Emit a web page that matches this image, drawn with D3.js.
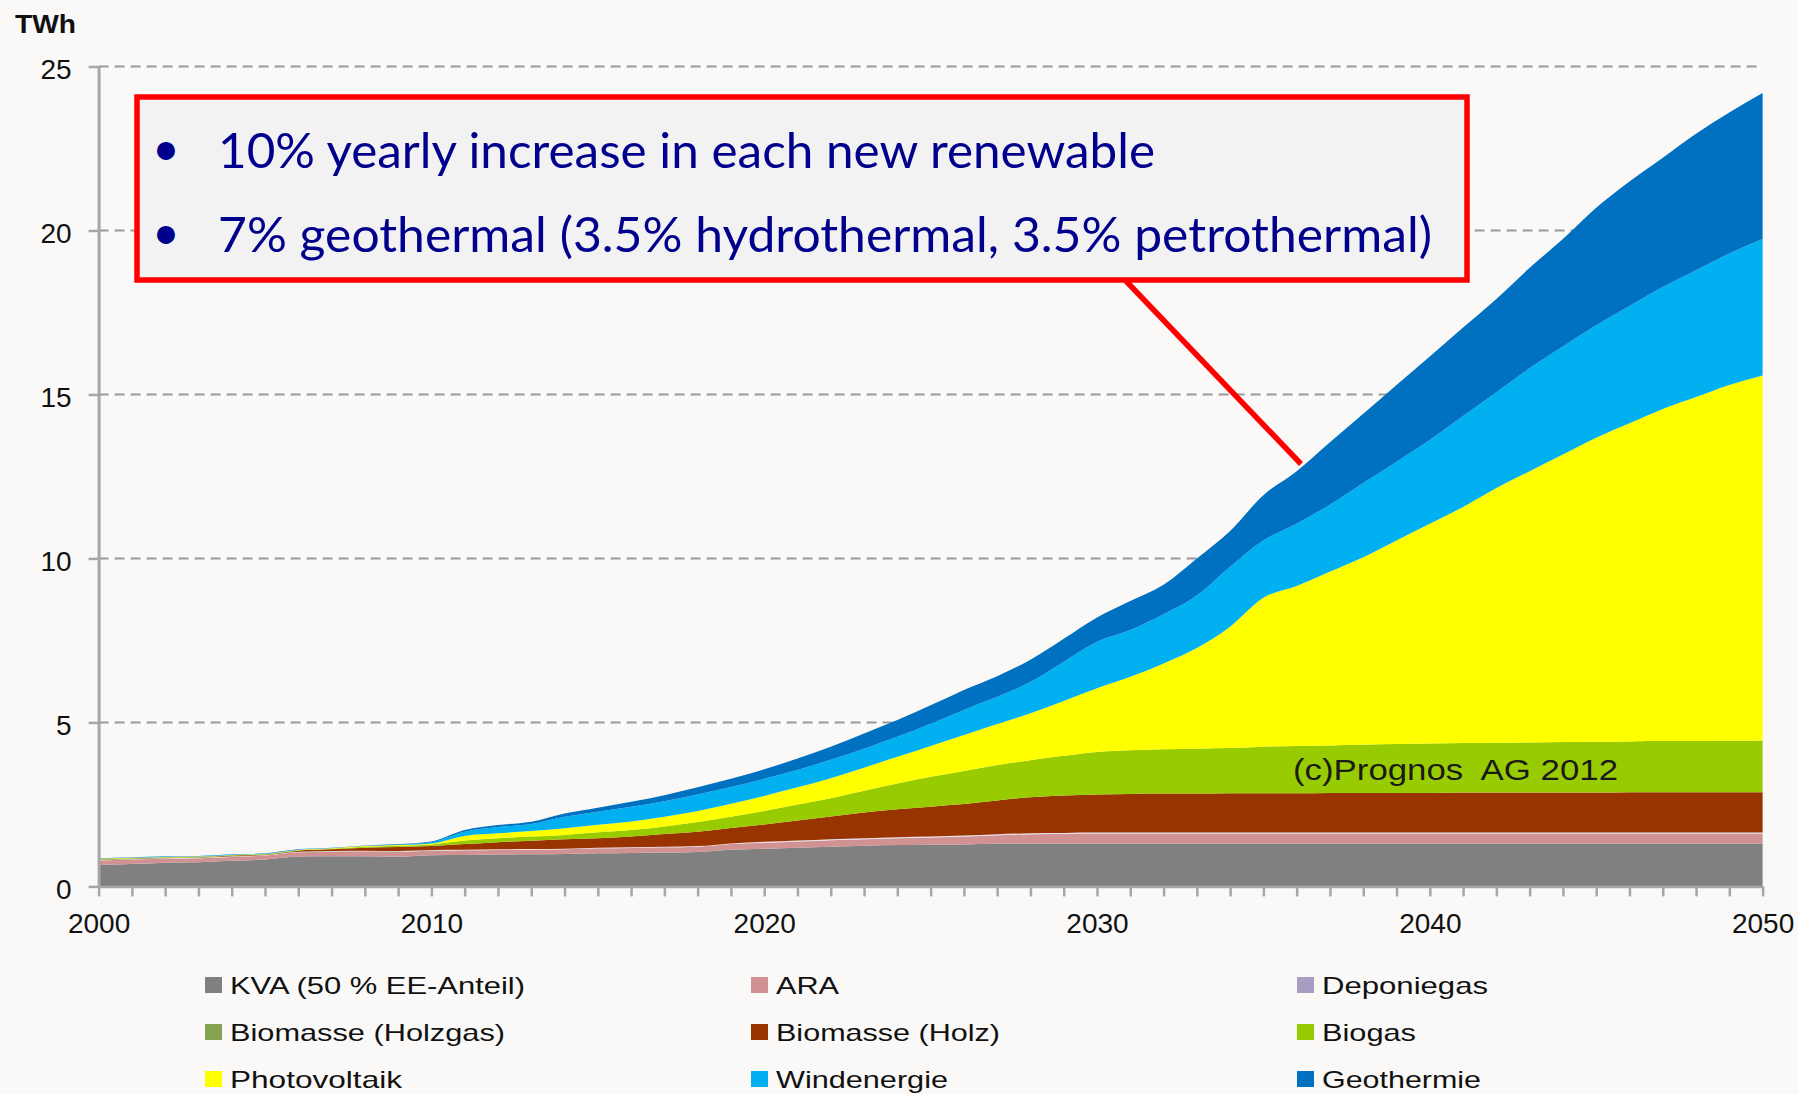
<!DOCTYPE html>
<html><head><meta charset="utf-8">
<script src="https://cdn.jsdelivr.net/npm/d3@7"></script>
<style>html,body{margin:0;padding:0;background:#faf9f7;} svg{display:block;}</style>
</head><body>
<svg id="chart" width="1798" height="1094"></svg>
<script>
// ---------- data ----------
const years = [2000,2001,2002,2003,2004,2005,2006,2007,2008,2009,2010,
  2011,2012,2013,2014,2015,2016,2017,2018,2019,2020,
  2021,2022,2023,2024,2025,2026,2027,2028,2029,2030,
  2031,2032,2033,2034,2035,2036,2037,2038,2039,2040,
  2041,2042,2043,2044,2045,2046,2047,2048,2049,2050];

const kva = [0.65,0.68,0.72,0.74,0.78,0.82,0.91,0.92,0.92,0.91,0.95,
  0.96,0.97,0.98,0.99,1.01,1.02,1.03,1.05,1.12,1.15,
  1.18,1.21,1.24,1.26,1.27,1.28,1.30,1.31,1.31,1.31,
  1.31,1.31,1.31,1.31,1.31,1.31,1.31,1.31,1.31,1.31,
  1.31,1.31,1.31,1.31,1.31,1.31,1.31,1.31,1.31,1.31];
const ara = [0.14,0.14,0.13,0.12,0.12,0.12,0.13,0.14,0.15,0.15,0.14,
  0.14,0.14,0.14,0.14,0.15,0.15,0.16,0.16,0.17,0.18,
  0.19,0.20,0.20,0.21,0.22,0.24,0.26,0.28,0.29,0.30,
  0.30,0.30,0.30,0.30,0.30,0.30,0.30,0.30,0.30,0.30,
  0.30,0.30,0.30,0.30,0.30,0.30,0.30,0.30,0.30,0.30];
const deponiegas = [0.01,0.01,0.01,0.01,0.01,0.01,0.01,0.01,0.01,0.01,0.01,
  0.02,0.02,0.02,0.02,0.02,0.02,0.02,0.02,0.02,0.03,
  0.03,0.03,0.03,0.03,0.03,0.03,0.03,0.03,0.03,0.03,
  0.03,0.03,0.03,0.03,0.03,0.03,0.03,0.03,0.03,0.03,
  0.03,0.03,0.03,0.03,0.03,0.03,0.03,0.03,0.03,0.03];
const holzgas = [0.01,0.01,0.01,0.01,0.01,0.01,0.01,0.01,0.01,0.01,0.01,
  0,0,0,0,0,0,0,0,0,0,
  0,0,0,0,0,0,0,0,0,0,
  0,0,0,0,0,0,0,0,0,0,
  0,0,0,0,0,0,0,0,0,0];
const holz = [0.01,0.01,0.01,0.01,0.02,0.01,0.03,0.05,0.09,0.12,0.12,
  0.17,0.22,0.25,0.29,0.29,0.33,0.39,0.44,0.47,0.53,
  0.61,0.69,0.78,0.85,0.91,0.96,1.03,1.10,1.14,1.16,
  1.18,1.19,1.19,1.20,1.20,1.20,1.21,1.21,1.21,1.21,
  1.22,1.22,1.22,1.22,1.22,1.23,1.23,1.23,1.23,1.23];
const biogas = [0.01,0.01,0.01,0.01,0.01,0.01,0.01,0.02,0.03,0.04,0.05,
  0.11,0.12,0.13,0.13,0.18,0.20,0.23,0.29,0.34,0.41,
  0.49,0.56,0.67,0.79,0.91,1.01,1.08,1.13,1.21,1.30,
  1.33,1.35,1.37,1.38,1.42,1.44,1.45,1.47,1.49,1.51,
  1.51,1.52,1.53,1.54,1.55,1.55,1.56,1.56,1.57,1.58];
const photovoltaik = [0.01,0.01,0.01,0.01,0.01,0.01,0.01,0.01,0.02,0.02,0.03,
  0.14,0.15,0.17,0.20,0.23,0.26,0.29,0.34,0.40,0.46,
  0.52,0.61,0.70,0.81,0.94,1.10,1.25,1.43,1.67,1.94,
  2.24,2.62,3.07,3.70,4.54,4.88,5.30,5.72,6.21,6.70,
  7.20,7.77,8.27,8.77,9.27,9.70,10.13,10.49,10.85,11.13];
const windenergie = [0.01,0.01,0.01,0.01,0.01,0.01,0.01,0.01,0.01,0.02,0.04,
  0.13,0.19,0.21,0.35,0.40,0.45,0.48,0.50,0.51,0.52,
  0.53,0.56,0.58,0.61,0.68,0.76,0.83,0.95,1.20,1.42,
  1.43,1.50,1.60,1.83,1.75,1.90,2.04,2.26,2.40,2.55,
  2.77,2.92,3.14,3.29,3.43,3.58,3.72,3.87,4.01,4.16];
const geothermie = [0.01,0.01,0.01,0.01,0.01,0.01,0.01,0.01,0.01,0.01,0.02,
  0.05,0.06,0.07,0.10,0.12,0.15,0.18,0.22,0.25,0.29,
  0.35,0.40,0.46,0.51,0.56,0.61,0.63,0.68,0.70,0.74,
  0.88,0.90,1.13,1.09,1.38,1.60,1.90,2.11,2.34,2.55,
  2.70,2.84,3.06,3.28,3.58,3.79,3.94,4.16,4.30,4.45];

const seriesNames = ["KVA (50 % EE-Anteil)","ARA","Deponiegas","Biomasse (Holzgas)",
  "Biomasse (Holz)","Biogas","Photovoltaik","Windenergie","Geothermie"];
const seriesValues = [kva, ara, deponiegas, holzgas, holz, biogas, photovoltaik, windenergie, geothermie];
const seriesColors = ["#808080","#d09292","#e6e0ee","#88a34f","#993300","#99cc00","#ffff00","#00b0f0","#0070c0"];
const legendColors = ["#808080","#d09292","#a99dc2","#88a34f","#993300","#99cc00","#ffff00","#00b0f0","#0070c0"];
const yTickValues = [0,5,10,15,20,25];
const xLabelYears = [2000,2010,2020,2030,2040,2050];
const unitLabel = "TWh";
const noteLines = ["10% yearly increase in each new renewable",
  "7% geothermal (3.5% hydrothermal, 3.5% petrothermal)"];
const sourceLabel = "(c)Prognos  AG 2012";

// ---------- build ----------
const svg = d3.select("#chart");
svg.append("rect").attr("width",1798).attr("height",1094).attr("fill","#faf9f7");

const x = d3.scaleLinear().domain([2000,2050]).range([98.6,1762.6]);
const y = d3.scaleLinear().domain([0,25]).range([886.4,66.5]);

const table = years.map((yr,i)=>{
  const row = {year: yr};
  seriesNames.forEach((n,k)=> row[n] = seriesValues[k][i]);
  return row;
});
const stack = d3.stack().keys(seriesNames)(table);

// gridlines
svg.append("g").selectAll("line").data(yTickValues.filter(v=>v>0)).join("line")
  .attr("x1", x(2000)).attr("x2", x(2050))
  .attr("y1", d=>y(d)).attr("y2", d=>y(d))
  .attr("stroke","#9a9a9a").attr("stroke-width",2).attr("stroke-dasharray","10,6");

// areas
const area = d3.area().x(d=>x(d.data.year)).y0(d=>y(d[0])).y1(d=>y(d[1])).curve(d3.curveMonotoneX);
svg.append("g").selectAll("path").data(stack).join("path")
  .attr("d", area).attr("fill",(d,i)=>seriesColors[i]);

// axes
const fontAx = "'Liberation Sans', Arial, sans-serif";
const yAxis = svg.append("g").attr("transform",`translate(${x(2000)},0)`)
  .call(d3.axisLeft(y).tickValues(yTickValues).tickSize(10).tickSizeOuter(0).tickPadding(17));
yAxis.select(".domain").attr("stroke","#a6a6a6").attr("stroke-width",3);
yAxis.selectAll(".tick line").attr("stroke","#a6a6a6").attr("stroke-width",2.5);
yAxis.selectAll(".tick text").attr("font-family",fontAx).attr("font-size",28)
  .attr("fill","#111").attr("dy","0.42em");

const xAxis = svg.append("g").attr("transform",`translate(0,${y(0)})`)
  .call(d3.axisBottom(x).tickValues(years).tickSize(10).tickSizeOuter(0).tickPadding(16.7)
    .tickFormat(d=> xLabelYears.includes(d) ? String(d) : ""));
xAxis.select(".domain").attr("stroke","#a6a6a6").attr("stroke-width",2.5);
xAxis.selectAll(".tick line").attr("stroke","#a6a6a6").attr("stroke-width",2.5);
xAxis.selectAll(".tick text").attr("font-family",fontAx).attr("font-size",28).attr("fill","#111");

// unit label
svg.append("text").attr("x",15).attr("y",33).text(unitLabel)
  .attr("font-family",fontAx).attr("font-weight","bold").attr("font-size",26).attr("fill","#111")
  .attr("textLength",61).attr("lengthAdjust","spacingAndGlyphs");

// source label
const fontNarrow = "'Liberation Sans Narrow', 'Liberation Sans', Arial, sans-serif";
svg.append("text").attr("x",1293).attr("y",780).text(sourceLabel)
  .attr("font-family",fontNarrow).attr("font-size",29).attr("fill","#1a1a1a")
  .attr("textLength",325).attr("lengthAdjust","spacingAndGlyphs")
  .style("white-space","pre").attr("xml:space","preserve");

// annotation box
svg.append("rect").attr("x",137).attr("y",97).attr("width",1330).attr("height",183)
  .attr("fill","#f2f2f3").attr("stroke","#ff0000").attr("stroke-width",5.5);
svg.append("line").attr("x1",1126).attr("y1",281).attr("x2",1301).attr("y2",464)
  .attr("stroke","#ff0000").attr("stroke-width",5.5);
const fontNote = "Lato, 'Open Sans', sans-serif";
const noteBase = [168, 252];
const noteWidths = [937, 1214];
noteLines.forEach((t,i)=>{
  svg.append("text").attr("x",166).attr("y",noteBase[i]-3).attr("text-anchor","middle")
    .attr("font-family",fontNote).attr("font-size",48).attr("fill","#00008c").text("•");
  svg.append("text").attr("x",218).attr("y",noteBase[i]).text(t)
    .attr("font-family",fontNote).attr("font-size",49).attr("fill","#00008c")
    .attr("textLength",noteWidths[i]).attr("lengthAdjust","spacingAndGlyphs");
});

// legend
const legColX = [205, 751, 1297];
const legRowY = [985, 1032, 1079];
const legWidths = [295, 63, 166, 275, 224, 94, 172, 172, 159];
const leg = svg.append("g").selectAll("g").data(seriesNames).join("g")
  .attr("transform",(d,i)=>`translate(${legColX[i%3]},${legRowY[Math.floor(i/3)]})`);
leg.append("rect").attr("x",0).attr("y",-8).attr("width",17).attr("height",16)
  .attr("fill",(d,i)=>legendColors[i]);
leg.append("text").attr("x",25).attr("y",9).text(d=>d)
  .attr("font-family",fontNarrow).attr("font-size",24).attr("fill","#111")
  .attr("textLength",(d,i)=>legWidths[i]).attr("lengthAdjust","spacingAndGlyphs");
</script>
</body></html>
